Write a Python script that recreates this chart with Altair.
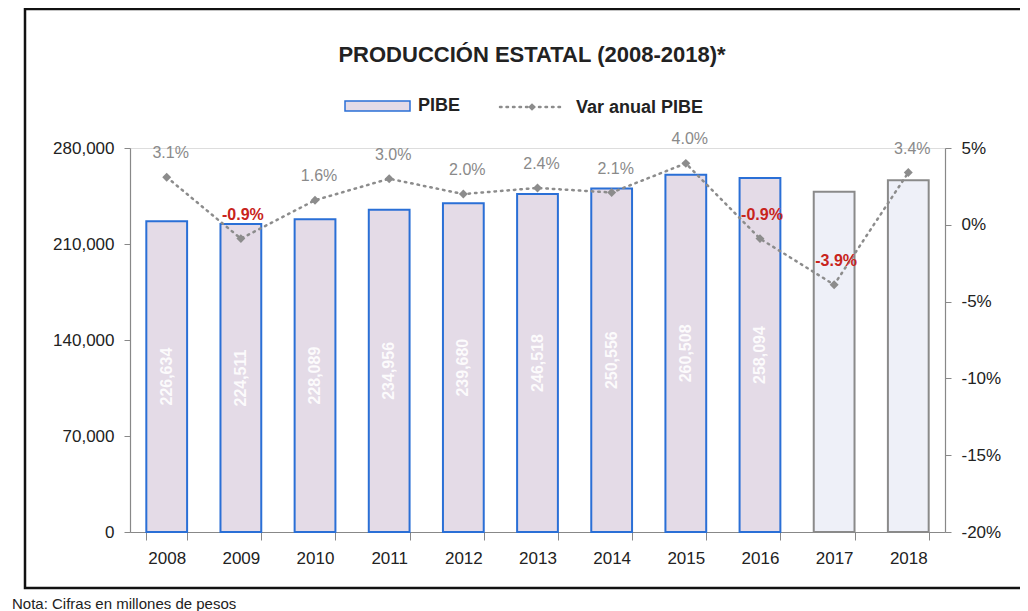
import altair as alt
import pandas as pd

years = ["2008", "2009", "2010", "2011", "2012", "2013", "2014", "2015", "2016", "2017", "2018"]
pibe = [226634, 224511, 228089, 234956, 239680, 246518, 250556, 260508, 258094, 248028, 256460]
var_anual = [3.1, -0.9, 1.6, 3.0, 2.0, 2.4, 2.1, 4.0, -0.9, -3.9, 3.4]
tipo = ["obs"] * 9 + ["est"] * 2
bar_label = ["226,634", "224,511", "228,089", "234,956", "239,680", "246,518",
             "250,556", "260,508", "258,094", "", ""]
left_ticks = [0, 70000, 140000, 210000, 280000]
right_ticks = [-20, -15, -10, -5, 0, 5]

df = pd.DataFrame({"year": years, "pibe": pibe, "var": var_anual, "tipo": tipo, "blabel": bar_label})
df["half"] = df["pibe"] / 2
df["vlabel"] = [f"{v:.1f}%" for v in var_anual]

FONT = "Liberation Sans"

xenc = alt.X("year:N", title=None,
             scale=alt.Scale(paddingInner=0.45, paddingOuter=0.22),
             axis=alt.Axis(labelAngle=0, labelFontSize=17, labelColor="#222", labelFont=FONT,
                           labelPadding=10, tickBand="extent", tickSize=8, tickColor="#888",
                           domainColor="#888", domainWidth=1.2))

base = alt.Chart(df).encode(x=xenc)

yleft = alt.Scale(domain=[0, 280000], nice=False, zero=True)
yl_axis = alt.Axis(values=left_ticks, format=",d", grid=False,
                   labelFontSize=17, labelColor="#222", labelFont=FONT, tickSize=6,
                   tickColor="#888", domainColor="#888", domainWidth=1.2, labelPadding=10)
bars = base.mark_bar(strokeWidth=2).encode(
    y=alt.Y("pibe:Q", scale=yleft, title=None, axis=yl_axis),
    fill=alt.Color("tipo:N", scale=alt.Scale(domain=["obs", "est"], range=["#e4dbe7", "#eef0f8"]), legend=None),
    stroke=alt.Stroke("tipo:N", scale=alt.Scale(domain=["obs", "est"], range=["#2a6fd6", "#8a8a8a"]), legend=None),
)
bar_text = base.mark_text(angle=270, color="white", fontWeight="bold", fontSize=16, font=FONT,
                          opacity=0.9).encode(
    y=alt.Y("half:Q", scale=yleft, title=None, axis=yl_axis),
    text="blabel:N",
)
left = alt.layer(bars, bar_text)

yright = alt.Scale(domain=[-20, 5], nice=False, zero=False)
yr_axis = alt.Axis(orient="right", values=right_ticks, labelExpr="datum.value + '%'",
                   grid=False, labelFontSize=17, labelColor="#222", labelFont=FONT, tickSize=6,
                   tickColor="#888", domainColor="#888", domainWidth=1.2, labelPadding=10)
yr = alt.Y("var:Q", scale=yright, title=None, axis=yr_axis)
line = base.mark_line(color="#8c8c8c", strokeWidth=2.5, strokeDash=[1.5, 5], strokeCap="round").encode(y=yr)
pts = base.mark_point(shape="diamond", filled=True, color="#8c8c8c", size=80, opacity=1).encode(y=yr)
pos_lab = base.transform_filter("datum.var >= 0").mark_text(
    dy=-24, dx=4, fontSize=16, font=FONT, color="#8a8a8a").encode(y=yr, text="vlabel:N")
neg_lab = base.transform_filter("datum.var < 0").mark_text(
    dy=-24, dx=2, fontSize=16, font=FONT, fontWeight="bold", color="#c8241c").encode(y=yr, text="vlabel:N")
right = alt.layer(line, pts, pos_lab, neg_lab)

one = pd.DataFrame({"k": [0]})
deco_base = alt.Chart(one)
frame = deco_base.mark_rect(fill=None, stroke="#111", strokeWidth=2.5).encode(
    x=alt.value(-105), x2=alt.value(900), y=alt.value(-139), y2=alt.value(440))
title = deco_base.mark_text(text="PRODUCCIÓN ESTATAL (2008-2018)*", fontSize=22, fontWeight="bold",
                            font=FONT, color="#222", align="center", baseline="middle").encode(
    x=alt.value(402), y=alt.value(-93))
leg_rect = deco_base.mark_rect(fill="#e4dbe7", stroke="#2a6fd6", strokeWidth=1.5).encode(
    x=alt.value(215), x2=alt.value(280), y=alt.value(-47), y2=alt.value(-37))
leg_t1 = deco_base.mark_text(text="PIBE", fontSize=18, fontWeight="bold", font=FONT, color="#222",
                             align="left", baseline="middle").encode(x=alt.value(288), y=alt.value(-42))
leg_line = deco_base.mark_rule(color="#8c8c8c", strokeWidth=2.5, strokeDash=[1.5, 5], strokeCap="round").encode(
    x=alt.value(370), x2=alt.value(430), y=alt.value(-41))
leg_pt = deco_base.mark_point(shape="diamond", filled=True, color="#8c8c8c", size=60, opacity=1).encode(
    x=alt.value(402), y=alt.value(-41))
leg_t2 = deco_base.mark_text(text="Var anual PIBE", fontSize=18, fontWeight="bold", font=FONT, color="#222",
                             align="left", baseline="middle").encode(x=alt.value(446), y=alt.value(-40))
note = deco_base.mark_text(text="Nota: Cifras en millones de pesos", fontSize=15, font=FONT, color="#222",
                           align="left", baseline="middle").encode(x=alt.value(-118), y=alt.value(456))

chart = alt.layer(left, right, frame, title, leg_rect, leg_t1, leg_line, leg_pt, leg_t2, note).resolve_scale(
    y="independent"
).properties(
    width=815, height=384,
    autosize=alt.AutoSizeParams(type="none"),
    padding={"left": 122, "top": 140, "right": 75, "bottom": 79},
).configure_view(stroke="transparent", strokeWidth=0).configure(background="white")

chart.save("out.html", embed_options={"renderer": "svg", "actions": False})
